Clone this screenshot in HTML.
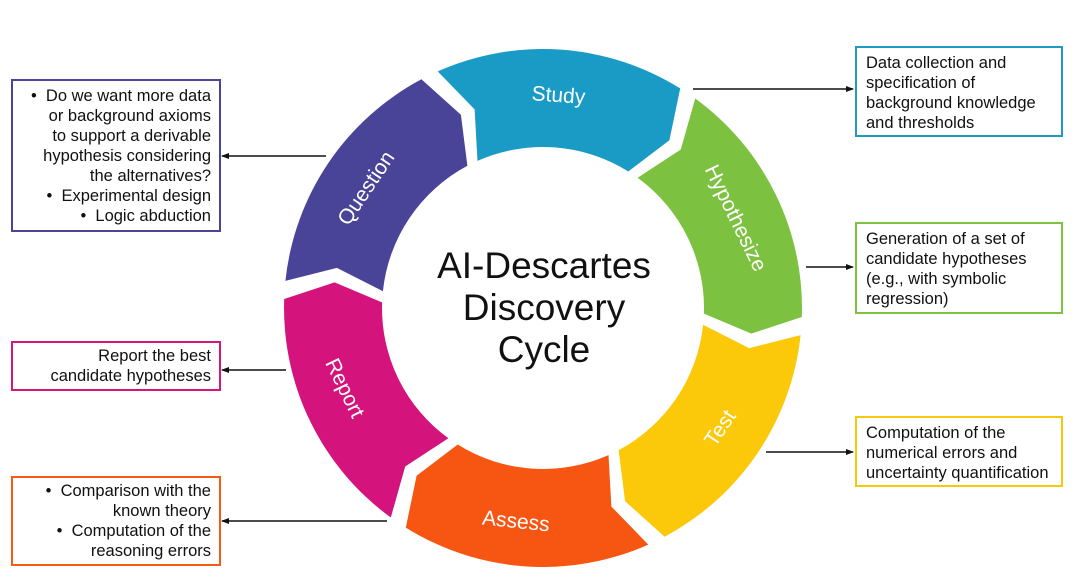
<!DOCTYPE html>
<html><head><meta charset="utf-8"><style>
html,body{margin:0;padding:0;background:#fff;}
body{width:1080px;height:586px;position:relative;overflow:hidden;font-family:"Liberation Sans",Arial,sans-serif;}
.box{position:absolute;box-sizing:border-box;border:2px solid;font-size:16.5px;line-height:20px;color:#111;background:#fff;white-space:nowrap;}
.r{padding:5px 9px;text-align:left;}
.l{padding:5px 8px;text-align:right;}
</style></head><body>
<svg width="1080" height="586" style="position:absolute;left:0;top:0">
<defs><marker id="ah" markerWidth="8" markerHeight="8" refX="7" refY="4" orient="auto" markerUnits="userSpaceOnUse"><path d="M0,1 L8,4 L0,7 z" fill="#111"/></marker></defs>
<g id="ring"></g>
<g fill="#fff" font-size="21" text-anchor="middle" font-family="Liberation Sans, Arial, sans-serif">
<text transform="translate(558,102) rotate(4)">Study</text>
<text transform="translate(736,218) rotate(64)" dy="7">Hypothesize</text>
<text transform="translate(720,428) rotate(-56)" dy="7">Test</text>
<text transform="translate(516,521) rotate(6)" dy="7">Assess</text>
<text transform="translate(345,388) rotate(64)" dy="7">Report</text>
<text transform="translate(366,188) rotate(-56)" dy="7">Question</text>
</g>
<g font-size="37" text-anchor="middle" fill="#111" font-family="Liberation Sans, Arial, sans-serif">
<text x="544" y="278">AI-Descartes</text>
<text x="544" y="320">Discovery</text>
<text x="544" y="362">Cycle</text>
</g>
<g stroke="#111" stroke-width="1.6" marker-end="url(#ah)">
<line x1="693" y1="89" x2="853" y2="89"/>
<line x1="806" y1="267" x2="853" y2="267"/>
<line x1="766" y1="452" x2="853" y2="452"/>
<line x1="326" y1="156" x2="222" y2="156"/>
<line x1="286" y1="370" x2="222" y2="370"/>
<line x1="387" y1="521" x2="222" y2="521"/>
</g>
</svg>
<div class="box r" style="left:855px;top:46px;width:208px;height:91px;border-color:#1f9ac4">Data collection and<br>specification of<br>background knowledge<br>and thresholds</div>
<div class="box r" style="left:855px;top:222px;width:208px;height:92px;border-color:#7dc242">Generation of a set of<br>candidate hypotheses<br>(e.g., with symbolic<br>regression)</div>
<div class="box r" style="left:855px;top:416px;width:208px;height:71px;border-color:#f8c80a">Computation of the<br>numerical errors and<br>uncertainty quantification</div>
<div class="box l" style="left:11px;top:79px;width:210px;height:153px;border-color:#4b459a">•&nbsp; Do we want more data<br>or background axioms<br>to support a derivable<br>hypothesis considering<br>the alternatives?<br>•&nbsp; Experimental design<br>•&nbsp; Logic abduction</div>
<div class="box l" style="left:11px;top:341px;width:210px;height:50px;border-color:#d6167e;padding-top:3px">Report the best<br>candidate hypotheses</div>
<div class="box l" style="left:11px;top:476px;width:210px;height:90px;border-color:#f65a13;padding-top:3px">•&nbsp; Comparison with the<br>known theory<br>•&nbsp; Computation of the<br>reasoning errors</div>
<script>
(function(){
var cx=543,cy=308,R=259,r=161,Rm=(R+r)/2,d=5,h=28;
var cols=["#1a9bc6","#7cc240","#fcc80a","#f65512","#d4137c","#4a4498"];
var g=document.getElementById("ring"),s="";
function p(rad,a){a=a*Math.PI/180;return (cx+rad*Math.cos(a)).toFixed(1)+","+(cy+rad*Math.sin(a)).toFixed(1);}
for(var i=0;i<6;i++){
var c=-86+60*i,a0=c-h,a1=c+h;
var path="M"+p(R,a0)+" A"+R+","+R+" 0 0 1 "+p(R,a1)+" L"+p(Rm,a1+d)+" L"+p(r,a1)+" A"+r+","+r+" 0 0 0 "+p(r,a0)+" L"+p(Rm,a0+d)+" Z";
s+='<path d="'+path+'" fill="'+cols[i]+'"/>';
}
g.innerHTML=s;
})();
</script>
</body></html>
